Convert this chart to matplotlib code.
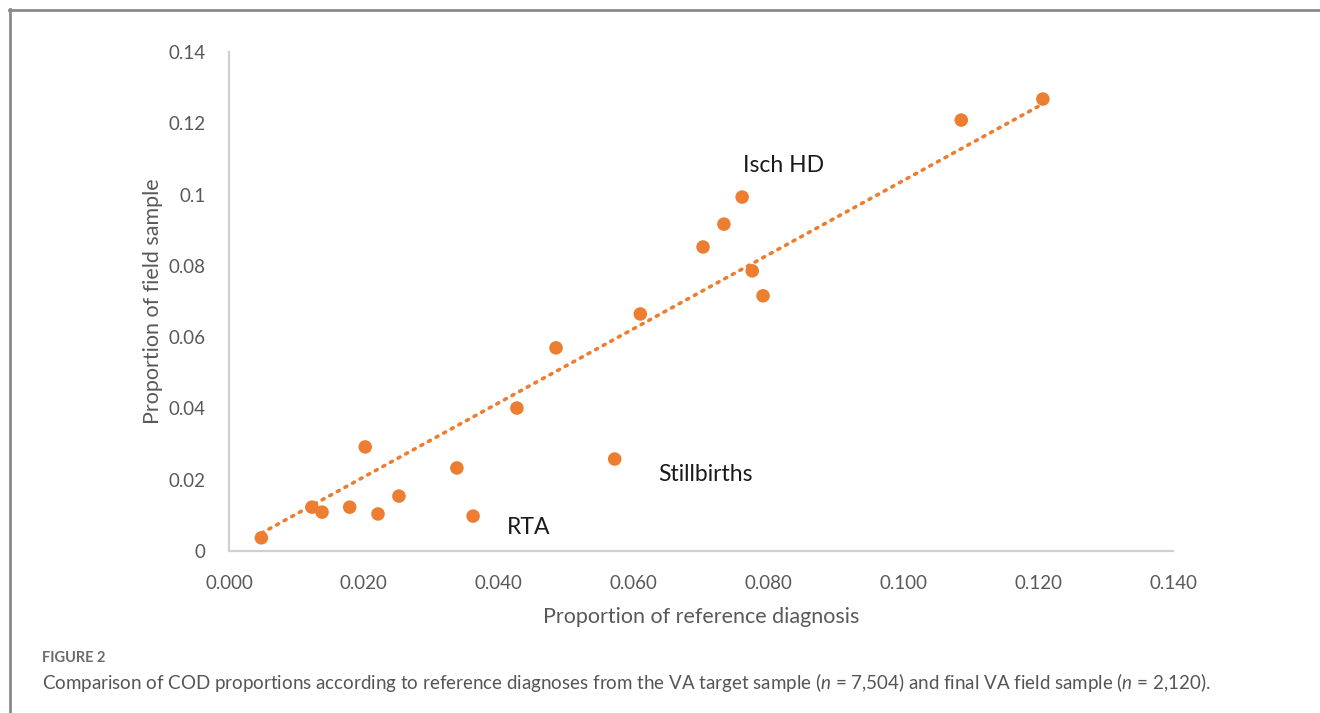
import numpy as np
import matplotlib
matplotlib.use("Agg")
import matplotlib.pyplot as plt
from matplotlib.lines import Line2D

plt.rcParams['font.family'] = ['Lato', 'DejaVu Sans']
plt.rcParams['mathtext.fontset'] = 'custom'
plt.rcParams['mathtext.it'] = 'Lato:italic'
plt.rcParams['mathtext.rm'] = 'Lato'

# Data (proportion of reference diagnosis vs proportion of field sample)
ref_prop = [0.0048, 0.0123, 0.0138, 0.0179, 0.0202, 0.0221, 0.0252, 0.0338,
            0.0362, 0.0427, 0.0485, 0.0572, 0.0610, 0.0703, 0.0734, 0.0761,
            0.0776, 0.0792, 0.1086, 0.1207]
field_prop = [0.0037, 0.0123, 0.0109, 0.0123, 0.0292, 0.0104, 0.0154, 0.0233,
              0.0098, 0.0401, 0.0570, 0.0258, 0.0665, 0.0853, 0.0917, 0.0993,
              0.0786, 0.0716, 0.1209, 0.1268]

x_ticks = [0.0, 0.02, 0.04, 0.06, 0.08, 0.10, 0.12, 0.14]
x_tick_labels = ["0.000", "0.020", "0.040", "0.060", "0.080", "0.100", "0.120", "0.140"]
y_ticks = [0.0, 0.02, 0.04, 0.06, 0.08, 0.10, 0.12, 0.14]
y_tick_labels = ["0", "0.02", "0.04", "0.06", "0.08", "0.1", "0.12", "0.14"]

labels = ["Isch HD", "Stillbirths", "RTA"]
label_pos = [(0.0763, 0.1082), (0.0637, 0.0216), (0.0412, 0.0066)]

orange = "#ED7D31"
tick_color = "#595959"

fig = plt.figure(figsize=(13.2, 7.13), dpi=100)
ax = fig.add_axes([229/1320, 162/713, (1173-229)/1320, (551-52)/713])

# trendline (linear fit through the origin)
xs = np.array(ref_prop)
ys = np.array(field_prop)
slope = np.sum(xs*ys) / np.sum(xs*xs)
xl = np.array([xs.min(), xs.max()])
ax.plot(xl, slope*xl, color=orange, lw=2.6, linestyle=(0, (0.6, 1.8)),
        dash_capstyle='round', zorder=2)

ax.scatter(ref_prop, field_prop, s=95, color=orange, edgecolors='none', zorder=3)

for t, (px, py) in zip(labels, label_pos):
    ax.text(px, py, t, fontsize=16.5, color="#1a1a1a", ha='left', va='center')

ax.set_xlim(0, 0.14)
ax.set_ylim(0, 0.14)
ax.set_xticks(x_ticks)
ax.set_xticklabels(x_tick_labels)
ax.set_yticks(y_ticks)
ax.set_yticklabels(y_tick_labels)
ax.tick_params(axis='both', length=0, labelsize=13.5, labelcolor=tick_color)
ax.tick_params(axis='x', pad=17)
ax.tick_params(axis='y', pad=17)
for s in ['top', 'right']:
    ax.spines[s].set_visible(False)
for s in ['left', 'bottom']:
    ax.spines[s].set_color("#d0d0d0")
    ax.spines[s].set_linewidth(1.6)

ax.set_xlabel("Proportion of reference diagnosis", fontsize=15.5, color=tick_color, labelpad=11)
ax.set_ylabel("Proportion of field sample", fontsize=15.5, color=tick_color, labelpad=4)

# frame lines (top and left)
fig.add_artist(Line2D([9/1320, 1.0], [1 - 9.5/713, 1 - 9.5/713], transform=fig.transFigure,
                      color="#8a8a8a", lw=2))
fig.add_artist(Line2D([9.5/1320, 9.5/1320], [0, 1 - 9/713], transform=fig.transFigure,
                      color="#8a8a8a", lw=2))

fig.text(42/1320, 1 - 658/713, "FIGURE 2", fontsize=10.5, color="#6b6b6b",
         ha='left', va='center', fontweight='bold')
fig.text(42/1320, 1 - 683/713,
         r"Comparison of COD proportions according to reference diagnoses from the VA target sample ($n$ = 7,504) and final VA field sample ($n$ = 2,120).",
         fontsize=13.5, color="#555555", ha='left', va='center')

fig.savefig("out.png", dpi=100)
